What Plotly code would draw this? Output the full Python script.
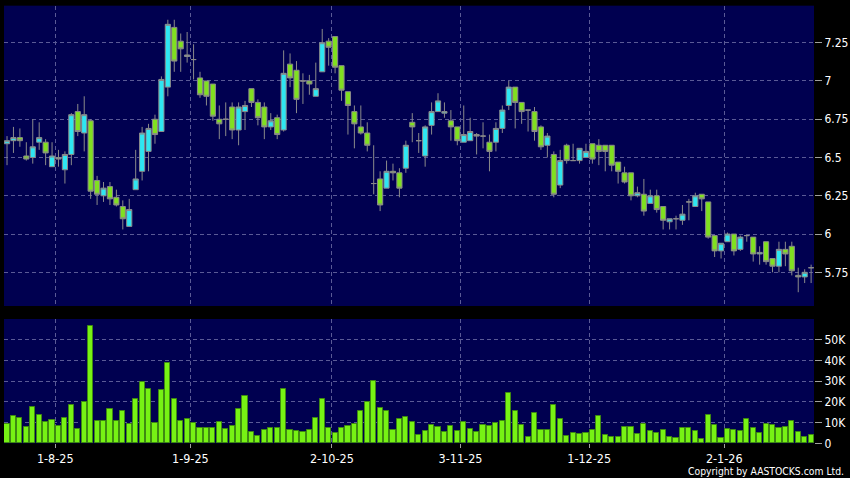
import pandas as pd
import plotly.graph_objects as go

# ---------------- data ----------------
hk_holidays = ["2025-10-01", "2025-10-07", "2025-10-29", "2025-12-25", "2025-12-26", "2026-01-01"]
dates = [d for d in pd.bdate_range("2025-07-22", "2026-01-21") if d.strftime("%Y-%m-%d") not in hk_holidays]

opens = [6.59, 6.61, 6.63, 6.51, 6.50, 6.60, 6.60, 6.44, 6.50, 6.42,
         6.52, 6.80, 6.66, 6.74, 6.35, 6.25, 6.31, 6.24, 6.18, 6.05,
         6.29, 6.41, 6.54, 6.75, 6.67, 6.96, 7.35, 7.26, 7.16, 7.14,
         7.02, 7.00, 6.98, 6.75, 6.75, 6.83, 6.68, 6.80, 6.95, 6.86,
         6.83, 6.70, 6.76, 6.68, 7.11, 7.07, 7.00, 7.00, 6.90, 7.06,
         7.26, 7.29, 7.10, 6.93, 6.80, 6.70, 6.66, 6.33, 6.36, 6.30,
         6.41, 6.40, 6.43, 6.73, 6.61, 6.51, 6.71, 6.80, 6.79, 6.74,
         6.70, 6.60, 6.61, 6.65, 6.64, 6.60, 6.60, 6.69, 6.84, 6.96,
         6.86, 6.81, 6.80, 6.70, 6.58, 6.52, 6.32, 6.58, 6.48, 6.48,
         6.50, 6.59, 6.58, 6.58, 6.58, 6.47, 6.40, 6.40, 6.25, 6.26,
         6.20, 6.25, 6.18, 6.08, 6.10, 6.09, 6.21, 6.18, 6.26, 6.21,
         5.99, 5.89, 5.95, 6.00, 5.90, 5.99, 5.98, 5.87, 5.95, 5.84,
         5.79, 5.90, 5.92, 5.73, 5.72, 5.78]
highs = [6.64, 6.70, 6.69, 6.60, 6.75, 6.73, 6.62, 6.60, 6.55, 6.54,
         6.79, 6.85, 6.90, 6.75, 6.38, 6.34, 6.34, 6.29, 6.22, 6.23,
         6.55, 6.70, 6.72, 6.78, 7.03, 7.40, 7.40, 7.31, 7.32, 7.24,
         7.06, 7.00, 6.98, 6.84, 6.86, 6.86, 6.86, 6.87, 6.95, 6.88,
         6.86, 6.79, 6.78, 7.20, 7.18, 7.13, 7.05, 7.04, 7.12, 7.34,
         7.28, 7.29, 7.10, 6.93, 6.84, 6.84, 6.73, 6.58, 6.41, 6.48,
         6.46, 6.43, 6.61, 6.79, 6.66, 6.71, 6.86, 6.92, 6.86, 6.81,
         6.70, 6.84, 6.76, 6.66, 6.73, 6.65, 6.73, 6.84, 7.00, 6.96,
         6.86, 6.81, 6.83, 6.71, 6.66, 6.54, 6.55, 6.59, 6.59, 6.56,
         6.59, 6.59, 6.62, 6.58, 6.58, 6.47, 6.44, 6.40, 6.31, 6.36,
         6.29, 6.29, 6.18, 6.10, 6.12, 6.19, 6.23, 6.27, 6.26, 6.21,
         5.99, 5.94, 6.01, 6.00, 5.99, 5.99, 5.98, 5.92, 5.95, 5.84,
         5.95, 5.95, 5.95, 5.78, 5.77, 5.80]
lows = [6.45, 6.53, 6.57, 6.48, 6.46, 6.55, 6.45, 6.44, 6.44, 6.33,
        6.45, 6.64, 6.54, 6.23, 6.19, 6.21, 6.19, 6.18, 6.03, 6.05,
        6.29, 6.35, 6.41, 6.59, 6.67, 6.90, 7.06, 7.06, 7.12, 7.01,
        6.89, 6.84, 6.74, 6.62, 6.64, 6.62, 6.58, 6.68, 6.83, 6.71,
        6.62, 6.68, 6.62, 6.67, 6.96, 6.79, 6.85, 6.91, 6.90, 7.06,
        7.10, 7.05, 6.87, 6.65, 6.56, 6.65, 6.54, 6.26, 6.15, 6.30,
        6.35, 6.24, 6.40, 6.60, 6.53, 6.44, 6.65, 6.80, 6.76, 6.61,
        6.58, 6.60, 6.61, 6.52, 6.56, 6.41, 6.54, 6.66, 6.81, 6.69,
        6.72, 6.67, 6.61, 6.55, 6.50, 6.24, 6.30, 6.46, 6.48, 6.46,
        6.50, 6.46, 6.45, 6.41, 6.41, 6.33, 6.33, 6.22, 6.24, 6.12,
        6.20, 6.14, 6.03, 6.03, 6.03, 6.06, 6.09, 6.18, 6.15, 5.97,
        5.85, 5.84, 5.95, 5.86, 5.89, 5.95, 5.82, 5.80, 5.80, 5.75,
        5.75, 5.79, 5.73, 5.62, 5.68, 5.68]
closes = [6.61, 6.63, 6.61, 6.49, 6.57, 6.63, 6.53, 6.51, 6.49, 6.52,
          6.78, 6.67, 6.78, 6.28, 6.26, 6.30, 6.23, 6.19, 6.10, 6.16,
          6.36, 6.66, 6.69, 6.65, 7.01, 7.37, 7.13, 7.21, 7.17, 7.14,
          6.91, 6.90, 6.77, 6.72, 6.75, 6.68, 6.83, 6.84, 6.86, 6.76,
          6.70, 6.74, 6.65, 7.05, 7.02, 6.88, 7.00, 6.98, 6.95, 7.25,
          7.22, 7.09, 6.94, 6.84, 6.72, 6.66, 6.58, 6.33, 6.19, 6.41,
          6.40, 6.30, 6.58, 6.70, 6.61, 6.70, 6.80, 6.87, 6.80, 6.70,
          6.61, 6.65, 6.67, 6.64, 6.64, 6.54, 6.69, 6.81, 6.96, 6.86,
          6.80, 6.81, 6.67, 6.57, 6.64, 6.26, 6.48, 6.48, 6.48, 6.56,
          6.54, 6.49, 6.54, 6.54, 6.45, 6.41, 6.34, 6.25, 6.27, 6.15,
          6.25, 6.16, 6.09, 6.10, 6.10, 6.13, 6.21, 6.25, 6.23, 5.98,
          5.89, 5.94, 6.00, 5.89, 5.98, 5.99, 5.87, 5.88, 5.82, 5.79,
          5.90, 5.87, 5.76, 5.72, 5.75, 5.78]
volume_k = [9.4, 13.1, 12.3, 7.8, 17.7, 13.9, 10.2, 11.3, 8.4, 12.3,
            18.5, 6.7, 19.7, 56.4, 11.0, 10.7, 16.4, 10.7, 15.8, 9.1,
            21.2, 29.6, 26.3, 9.6, 25.8, 39.0, 21.5, 10.7, 11.5, 9.6,
            7.3, 7.2, 7.6, 10.2, 6.8, 8.4, 16.7, 22.9, 5.3, 3.7,
            6.4, 7.6, 7.6, 26.3, 6.4, 5.9, 5.3, 6.4, 12.1, 21.5,
            7.5, 4.8, 7.2, 8.4, 9.4, 15.4, 20.1, 30.1, 16.9, 15.6,
            6.2, 11.5, 12.6, 10.5, 4.0, 5.8, 8.6, 8.0, 5.6, 8.3,
            5.7, 10.2, 6.8, 5.4, 8.6, 8.3, 9.9, 11.0, 24.4, 15.8,
            8.8, 2.9, 14.5, 6.4, 6.4, 18.5, 11.6, 3.5, 4.8, 4.3,
            4.9, 6.4, 13.2, 3.8, 3.0, 3.0, 8.1, 7.8, 4.5, 9.2,
            6.1, 4.8, 6.4, 2.9, 2.5, 7.6, 7.6, 6.1, 2.1, 13.9,
            8.9, 2.5, 6.8, 6.5, 6.1, 11.5, 7.6, 4.9, 9.1, 8.6,
            7.2, 7.8, 10.7, 5.3, 3.2, 4.0]

price_ticks = [5.75, 6, 6.25, 6.5, 6.75, 7, 7.25]
price_labels = ["5.75", "6", "6.25", "6.5", "6.75", "7", "7.25"]
vol_ticks = [0, 10, 20, 30, 40, 50]
vol_labels = ["0", "10K", "20K", "30K", "40K", "50K"]

# ---------------- derived positions ----------------
x_idx = list(range(len(dates)))
month_pos, month_labels = [], []
for i in range(1, len(dates)):
    if dates[i].month != dates[i - 1].month:
        month_pos.append(i - 0.5)
        month_labels.append(f"{dates[i].day}-{dates[i].month}-{dates[i]:%y}")

hover = [d.strftime("%Y-%m-%d") for d in dates]

# ---------------- style ----------------
BG = "#000050"
CYAN = "#2ee6f2"
GREEN = "#80e020"
OUTLINE = "#8a8a8a"
LIME = "#77f214"
LIME_EDGE = "#3f8a12"
GRID = "#5a5a96"
FONT = "DejaVu Sans Condensed"

fig = go.Figure()
fig.add_trace(go.Candlestick(
    x=x_idx, open=opens, high=highs, low=lows, close=closes,
    text=hover,
    increasing=dict(fillcolor=CYAN, line=dict(color=OUTLINE, width=1)),
    decreasing=dict(fillcolor=GREEN, line=dict(color=OUTLINE, width=1)),
    whiskerwidth=0,
    xaxis="x", yaxis="y", showlegend=False,
))
fig.add_trace(go.Bar(
    x=x_idx, y=volume_k, text=hover, textposition="none",
    marker=dict(color=LIME, line=dict(color=LIME_EDGE, width=1)),
    width=0.8, xaxis="x2", yaxis="y2", showlegend=False,
))

xrange = [-0.47, 125.45]
xdom = [4 / 850, 814 / 850]
common_x = dict(range=xrange, domain=xdom, tickmode="array", tickvals=month_pos,
                showgrid=True, gridcolor=GRID, griddash="4px,3px", gridwidth=1,
                zeroline=False, showline=False, fixedrange=True, automargin=False)

fig.update_layout(
    width=850, height=478,
    margin=dict(l=0, r=0, t=0, b=0, pad=0),
    paper_bgcolor="#000000", plot_bgcolor=BG,
    font=dict(family=FONT, color="#ffffff", size=12),
    bargap=0, boxgap=0.2, boxgroupgap=0, showlegend=False,
    xaxis=dict(**common_x, anchor="y", showticklabels=False, ticks="",
               rangeslider=dict(visible=False)),
    yaxis=dict(domain=[(478 - 306) / 478, (478 - 5.67) / 478], range=[5.530, 7.492],
               side="right", anchor="x", tickmode="array", tickvals=price_ticks,
               ticktext=price_labels, ticks="outside", ticklen=7, tickcolor="#a0a0a0",
               showgrid=True, gridcolor=GRID, griddash="4px,3px", zeroline=False,
               automargin=False, fixedrange=True, tickfont=dict(size=12, color="#ffffff")),
    xaxis2=dict(**common_x, anchor="y2", ticktext=month_labels, ticks="outside",
                ticklen=4, tickcolor="#a0a0a0", tickfont=dict(size=12.5, color="#ffffff")),
    yaxis2=dict(domain=[(478 - 443.3) / 478, (478 - 319) / 478], range=[0, 60],
                side="right", anchor="x2", tickmode="array", tickvals=vol_ticks,
                ticktext=vol_labels, ticks="outside", ticklen=7, tickcolor="#a0a0a0",
                showgrid=True, gridcolor=GRID, griddash="4px,3px", zeroline=False,
                automargin=False, fixedrange=True, tickfont=dict(size=12, color="#ffffff")),
    annotations=[dict(text="Copyright by AASTOCKS.com Ltd.", xref="paper", yref="paper",
                      x=1, y=0, xanchor="right", yanchor="bottom", xshift=-4, yshift=-1,
                      showarrow=False, font=dict(size=10.3, color="#ffffff", family=FONT))],
)

fig.write_html("out.html", config={"displayModeBar": False},
               post_script="document.body.style.margin='0';document.body.style.overflow='hidden';")
